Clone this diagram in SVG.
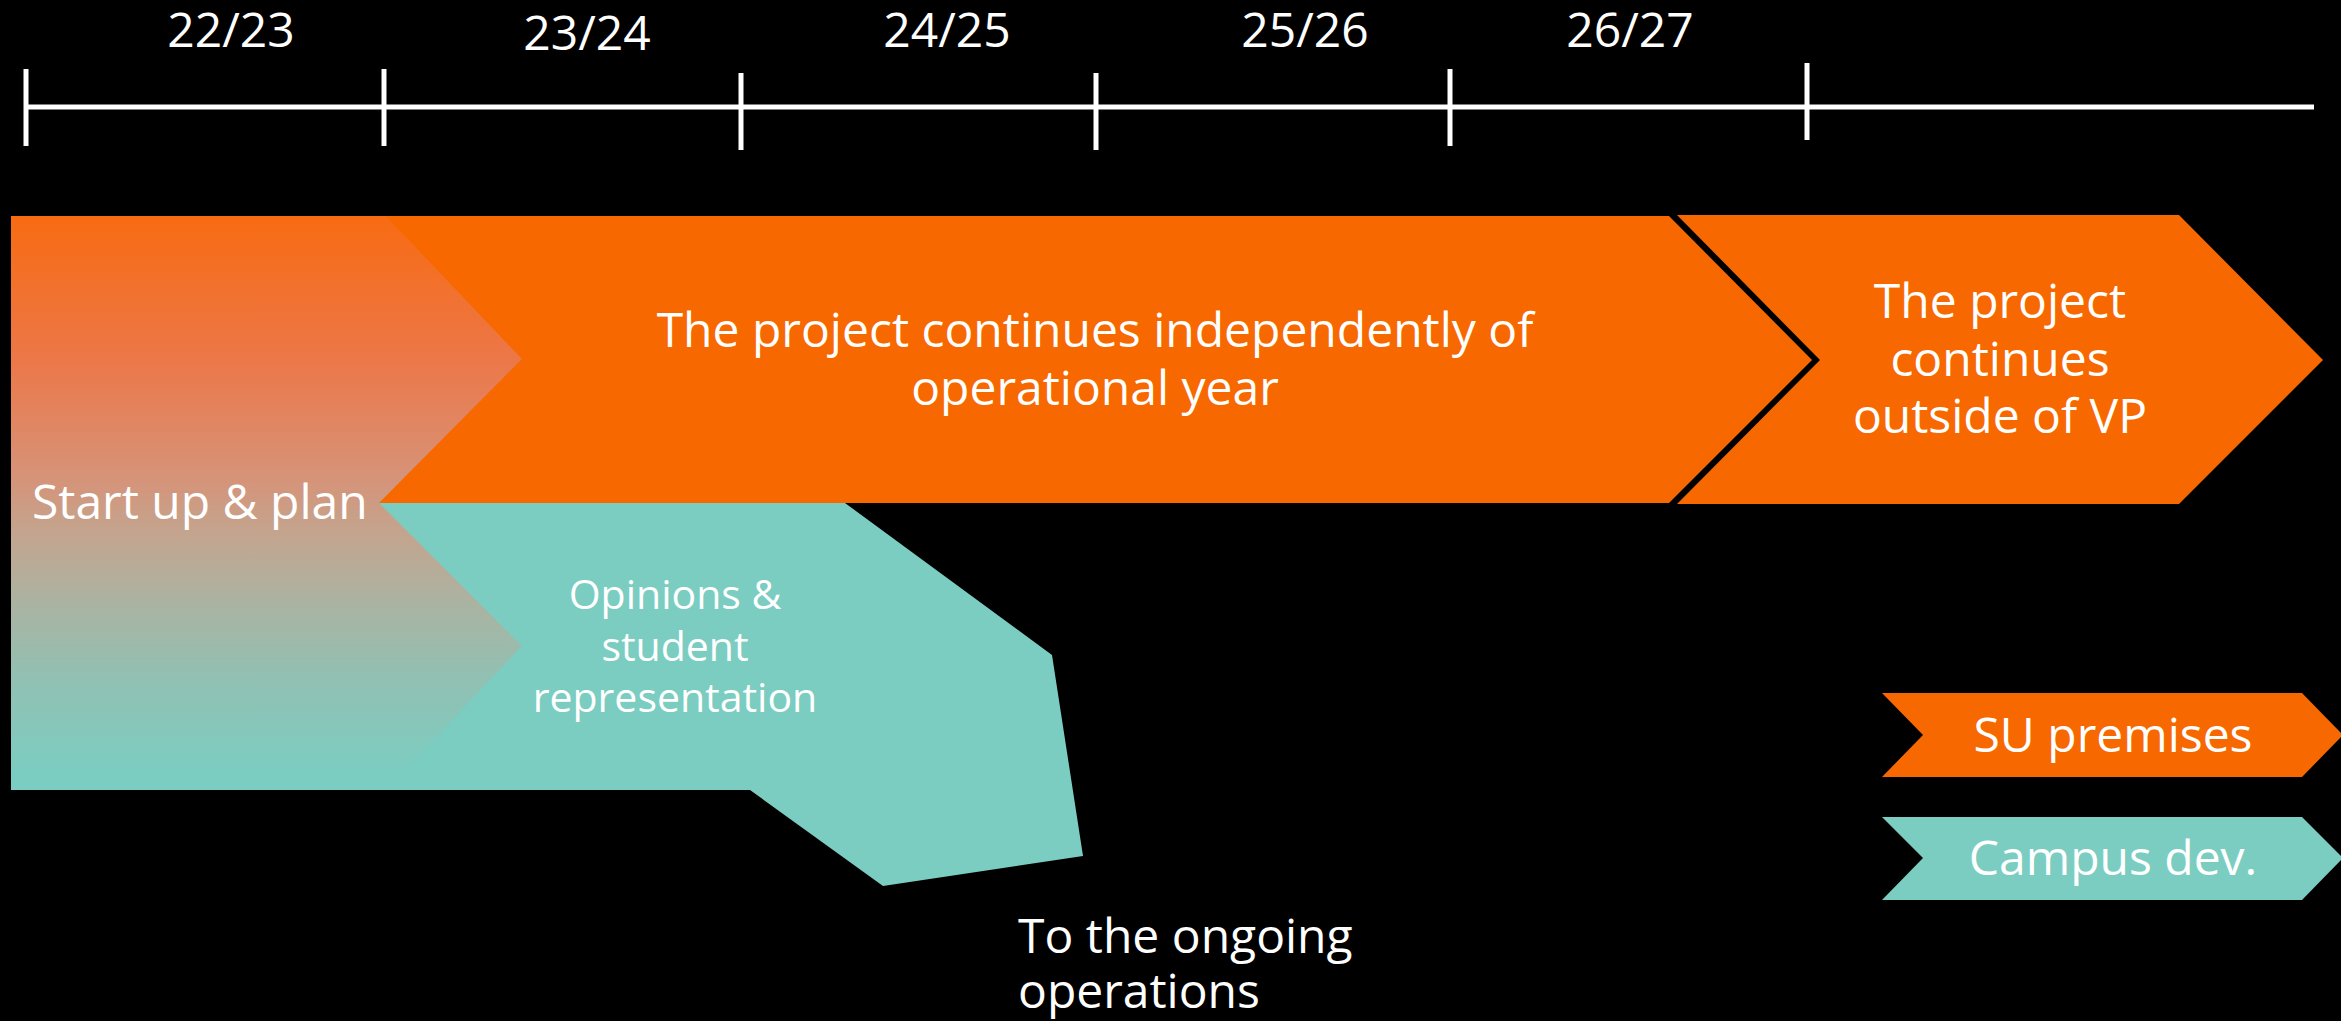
<svg xmlns="http://www.w3.org/2000/svg" width="2341" height="1021" viewBox="0 0 2341 1021">
  <defs>
    <linearGradient id="startGrad" x1="0" y1="0" x2="0" y2="1">
      <stop offset="0" stop-color="#F86B12"/>
      <stop offset="0.25" stop-color="#EC7748"/>
      <stop offset="0.45" stop-color="#D79277"/>
      <stop offset="0.55" stop-color="#C4A48E"/>
      <stop offset="0.65" stop-color="#B0B09E"/>
      <stop offset="0.8" stop-color="#92C0B2"/>
      <stop offset="0.97" stop-color="#7CCDC1"/>
    </linearGradient>
    <style>
      .lbl { font-family: "Open Sans", "Liberation Sans", sans-serif; fill: #FFFFFF; }
      .orange { fill: #F76800; }
      .teal { fill: #7BCDC1; }
      .tl { stroke: #FFFFFF; stroke-width: 5; fill: none; }
    </style>
  </defs>
  <rect x="0" y="0" width="2341" height="1021" fill="#000000"/>

  <g id="timeline">
    <line class="tl" x1="25" y1="107" x2="2314" y2="107"/>
    <line class="tl" x1="26" y1="69" x2="26" y2="146"/>
    <line class="tl" x1="384" y1="69" x2="384" y2="146"/>
    <line class="tl" x1="741" y1="73" x2="741" y2="150"/>
    <line class="tl" x1="1096" y1="73" x2="1096" y2="150"/>
    <line class="tl" x1="1450" y1="69" x2="1450" y2="146"/>
    <line class="tl" x1="1807" y1="63" x2="1807" y2="140"/>
    <g class="lbl" font-size="48" text-anchor="middle">
      <text x="231" y="47">22/23</text>
      <text x="587" y="50">23/24</text>
      <text x="947" y="47">24/25</text>
      <text x="1305" y="47">25/26</text>
      <text x="1630" y="47">26/27</text>
    </g>
  </g>

  <g id="start">
    <rect x="11" y="216" width="520" height="574" fill="url(#startGrad)"/>
  </g>

  <g id="independent">
    <path class="orange" d="M386,216 L1669,216 L1812,360 L1669,503 L379,503 L522,359 Z"/>
    <g class="lbl" font-size="48" text-anchor="middle">
      <text x="1095" y="347">The project continues independently of</text>
      <text x="1095" y="405">operational year</text>
    </g>
  </g>

  <g id="opinions">
    <path class="teal" d="M379,503 L845,503 L1052,655 L1083,856 L883,886 L750,790 L386,790 L522,646 Z"/>
    <g class="lbl" font-size="41" text-anchor="middle">
      <text x="675" y="609">Opinions &amp;</text>
      <text x="675" y="661">student</text>
      <text x="675" y="712">representation</text>
    </g>
  </g>

  <g id="start-label">
    <text class="lbl" font-size="48" x="32" y="519">Start up &amp; plan</text>
  </g>

  <g id="outside">
    <path class="orange" d="M1677,215 L2179,215 L2323,360 L2179,504 L1677,504 L1820,360 Z"/>
    <g class="lbl" font-size="48" text-anchor="middle">
      <text x="2000" y="318">The project</text>
      <text x="2000" y="376">continues</text>
      <text x="2000" y="433">outside of VP</text>
    </g>
  </g>

  <g id="ongoing">
    <text class="lbl" font-size="48" x="1018" y="953">To the ongoing</text>
    <text class="lbl" font-size="48" x="1018" y="1008">operations</text>
  </g>

  <g id="legend-su">
    <path class="orange" d="M1882,693 L2302,693 L2343,735 L2302,777 L1882,777 L1923,735 Z"/>
    <text class="lbl" font-size="48" x="2113" y="752" text-anchor="middle">SU premises</text>
  </g>

  <g id="legend-campus">
    <path class="teal" d="M1882,817 L2302,817 L2343,858 L2302,900 L1882,900 L1923,858 Z"/>
    <text class="lbl" font-size="48" x="2113" y="875" text-anchor="middle">Campus dev.</text>
  </g>

  <g id="connectors"/>
</svg>
